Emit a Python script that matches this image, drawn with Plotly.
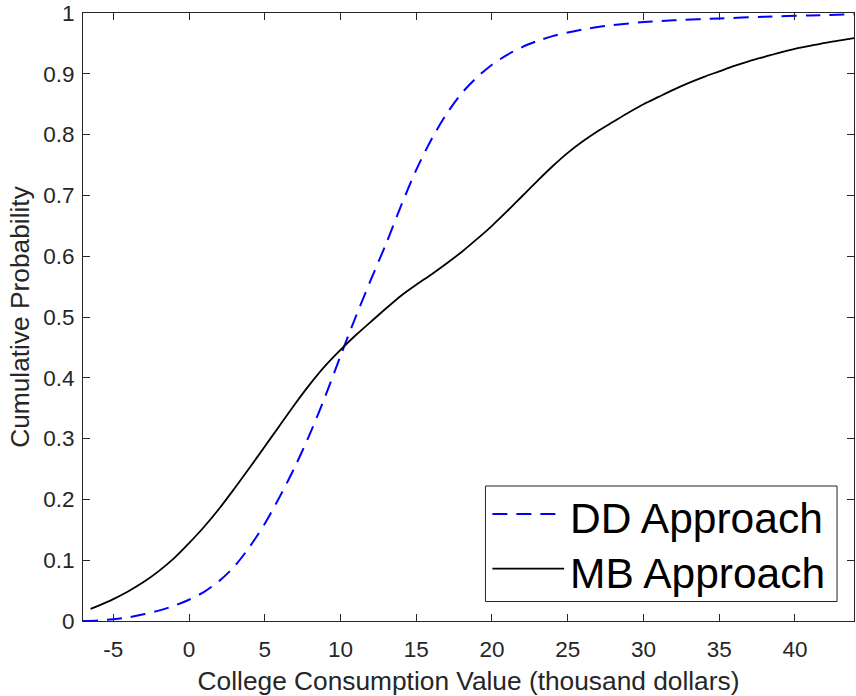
import plotly.graph_objects as go

# ---------------- data ----------------
dd_x = [-7, -6, -5, -4, -3, -2, -1, 0, 1, 2, 3, 4, 5, 6, 7, 8, 9, 10, 11, 12, 13, 14,
        15, 16, 17, 18, 19, 20, 21, 22, 23, 24, 25, 26, 27, 28, 30, 32, 35, 38, 41, 44]
dd_y = [0.0, 0.001, 0.003, 0.006, 0.011, 0.017, 0.025, 0.035, 0.048, 0.066, 0.090, 0.122,
        0.160, 0.205, 0.254, 0.309, 0.370, 0.436, 0.500, 0.561, 0.620, 0.683,
        0.742, 0.792, 0.834, 0.868, 0.894, 0.915, 0.931, 0.944, 0.954, 0.962, 0.968,
        0.973, 0.977, 0.980, 0.985, 0.988, 0.991, 0.994, 0.996, 0.998]

mb_x = [-6.5, -6, -5, -4, -3, -2, -1, 0, 1, 2, 3, 4, 5, 6, 7, 8, 9, 10, 11, 12, 13, 14,
        15, 16, 17, 18, 19, 20, 21, 22, 23, 24, 25, 26, 27, 28, 29, 30, 31, 32, 33, 34,
        35, 36, 37, 38, 39, 40, 41, 42, 43, 44]
mb_y = [0.020, 0.025, 0.036, 0.049, 0.064, 0.082, 0.103, 0.128, 0.155, 0.185, 0.218,
        0.252, 0.287, 0.322, 0.357, 0.390, 0.420, 0.446, 0.470, 0.492, 0.514, 0.535,
        0.553, 0.570, 0.588, 0.607, 0.628, 0.650, 0.674, 0.699, 0.724, 0.748, 0.770,
        0.789, 0.806, 0.821, 0.836, 0.850, 0.862, 0.874, 0.885, 0.895, 0.904, 0.913,
        0.921, 0.928, 0.935, 0.941, 0.946, 0.951, 0.955, 0.959]

series_names = ["DD Approach", "MB Approach"]
x_tick_vals = [-5, 0, 5, 10, 15, 20, 25, 30, 35, 40]
x_tick_text = ["-5", "0", "5", "10", "15", "20", "25", "30", "35", "40"]
y_tick_vals = [0, 0.1, 0.2, 0.3, 0.4, 0.5, 0.6, 0.7, 0.8, 0.9, 1]
y_tick_text = ["0", "0.1", "0.2", "0.3", "0.4", "0.5", "0.6", "0.7", "0.8", "0.9", "1"]
x_title = "College Consumption Value (thousand dollars)"
y_title = "Cumulative Probability"

# ---------------- styles ----------------
FONT = "Liberation Sans, Arial, Helvetica, sans-serif"
AX = "#262626"
BLUE = "#0000ff"
BLACK = "#000000"
DASH = "15px,9px"

fig = go.Figure()
fig.add_trace(go.Scatter(x=dd_x, y=dd_y, mode="lines", name=series_names[0],
                         line=dict(color=BLUE, width=2, dash=DASH, shape="spline", smoothing=0.8),
                         showlegend=False))
fig.add_trace(go.Scatter(x=mb_x, y=mb_y, mode="lines", name=series_names[1],
                         line=dict(color=BLACK, width=1.8, shape="spline", smoothing=0.8),
                         showlegend=False))

axis_common = dict(showline=True, linecolor=AX, linewidth=1, mirror="ticks",
                   ticks="inside", ticklen=7, tickcolor=AX, tickwidth=1,
                   showgrid=False, zeroline=False, ticklabeloverflow="allow",
                   tickfont=dict(family=FONT, size=22.5, color=AX))

fig.update_xaxes(range=[-7, 43.9], tickvals=x_tick_vals, ticktext=x_tick_text,
                 title=dict(text=x_title, font=dict(family=FONT, size=26.3, color=AX), standoff=11),
                 ticklabelstandoff=8, **axis_common)
fig.update_yaxes(range=[0, 1], tickvals=y_tick_vals, ticktext=y_tick_text,
                 title=dict(text=y_title, font=dict(family=FONT, size=26.3, color=AX), standoff=6),
                 ticklabelstandoff=3, **axis_common)

# ---------------- legend (drawn as box + samples + text) ----------------
lx0, lx1, ly0, ly1 = 0.522, 0.978, 0.032, 0.222
fig.add_shape(type="rect", xref="paper", yref="paper", x0=lx0, x1=lx1, y0=ly0, y1=ly1,
              line=dict(color=AX, width=1), fillcolor="white", layer="above")
samp_x0, samp_x1 = 0.531, 0.624
rows = [(0.176, BLUE, DASH, 2), (0.086, BLACK, "solid", 1.8)]
for (yy, col, dash, w), name in zip(rows, series_names):
    fig.add_shape(type="line", xref="paper", yref="paper", x0=samp_x0, x1=samp_x1,
                  y0=yy, y1=yy, line=dict(color=col, width=w, dash=dash), layer="above")
    fig.add_annotation(xref="paper", yref="paper", x=0.629, y=yy - 0.008, text=name,
                       showarrow=False, xanchor="left", yanchor="middle",
                       font=dict(family=FONT, size=42.5, color=BLACK))

fig.update_layout(width=856, height=696,
                  margin=dict(l=83, r=1, t=10, b=75),
                  paper_bgcolor="white", plot_bgcolor="white",
                  showlegend=False)

fig.write_html("out.html")
